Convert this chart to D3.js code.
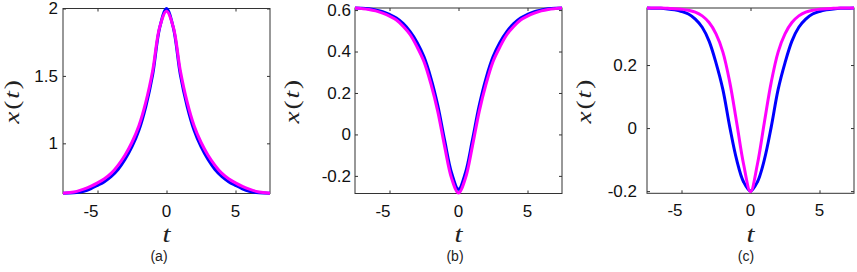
<!DOCTYPE html>
<html>
<head>
<meta charset="utf-8">
<script src="https://cdn.jsdelivr.net/npm/d3@7"></script>
<style>
	html, body { margin: 0; padding: 0; background: #fff; }
	svg { display: block; }
</style>
</head>
<body>
<div id="chart"></div>
<script>
// ===== data =====
const tValues = [-7.5, -7, -6.5, -6, -5.5, -5, -4.5, -4, -3.5, -3, -2.5, -2, -1.5, -1, -0.5, 0,
	0.5, 1, 1.5, 2, 2.5, 3, 3.5, 4, 4.5, 5, 5.5, 6, 6.5, 7, 7.5];

const blueA = [0.63, 0.631, 0.635, 0.645, 0.663, 0.688, 0.716, 0.755, 0.808, 0.882, 0.975, 1.097, 1.273, 1.511, 1.855, 2.0,
	1.855, 1.511, 1.273, 1.097, 0.975, 0.882, 0.808, 0.755, 0.716, 0.688, 0.663, 0.645, 0.635, 0.631, 0.63];
const magentaA = [0.63, 0.635, 0.644, 0.660, 0.681, 0.707, 0.738, 0.779, 0.839, 0.914, 1.008, 1.13, 1.305, 1.54, 1.86, 1.98,
	1.86, 1.54, 1.305, 1.13, 1.008, 0.914, 0.839, 0.779, 0.738, 0.707, 0.681, 0.660, 0.644, 0.635, 0.63];

const blueB = [0.61, 0.609, 0.606, 0.600, 0.592, 0.579, 0.562, 0.535, 0.496, 0.444, 0.374, 0.272, 0.139, -0.030, -0.186, -0.265,
	-0.186, -0.030, 0.139, 0.272, 0.374, 0.444, 0.496, 0.535, 0.562, 0.579, 0.592, 0.600, 0.606, 0.609, 0.61];
const magentaB = [0.61, 0.607, 0.603, 0.596, 0.585, 0.571, 0.552, 0.521, 0.481, 0.422, 0.351, 0.244, 0.110, -0.060, -0.212, -0.283,
	-0.212, -0.060, 0.110, 0.244, 0.351, 0.422, 0.481, 0.521, 0.552, 0.571, 0.585, 0.596, 0.603, 0.607, 0.61];

const blueC = [0.381, 0.380, 0.380, 0.378, 0.375, 0.370, 0.362, 0.346, 0.320, 0.276, 0.207, 0.122, 0.003, -0.101, -0.171, -0.200,
	-0.171, -0.101, 0.003, 0.122, 0.207, 0.276, 0.320, 0.346, 0.362, 0.370, 0.375, 0.378, 0.380, 0.380, 0.381];
const magentaC = [0.381, 0.381, 0.381, 0.380, 0.379, 0.377, 0.374, 0.368, 0.356, 0.335, 0.299, 0.241, 0.145, 0.017, -0.115, -0.202,
	-0.115, 0.017, 0.145, 0.241, 0.299, 0.335, 0.356, 0.368, 0.374, 0.377, 0.379, 0.380, 0.381, 0.381, 0.381];

const xDomain = [-7.5, 7.5];
const xTicks = [-5, 0, 5];
const yDomainA = [0.628, 2];
const yDomainB = [-0.285, 0.61];
const yDomainC = [-0.207, 0.381];
const yTicksA = [1, 1.5, 2];
const yTicksB = [-0.2, 0, 0.2, 0.4, 0.6];
const yTicksC = [-0.2, 0, 0.2];
const captions = ['(a)', '(b)', '(c)'];

// ===== layout =====
const width = 857, height = 272;
const plotW = 207;
const panels = [
	{ left: 63, top: 8.5, bottom: 193.5, yDomain: yDomainA, yTicks: yTicksA, blue: blueA, magenta: magentaA, labGap: 5, ylabX: 13.5, capX: 159, caption: captions[0] },
	{ left: 355, top: 8, bottom: 193.5, yDomain: yDomainB, yTicks: yTicksB, blue: blueB, magenta: magentaB, labGap: 4, ylabX: 294, capX: 455, caption: captions[1] },
	{ left: 647, top: 8, bottom: 193.3, yDomain: yDomainC, yTicks: yTicksC, blue: blueC, magenta: magentaC, labGap: 10, ylabX: 586, capX: 746, caption: captions[2] }
];

const axisColor = '#333';
const tickFont = '"Liberation Sans", Arial, sans-serif';
const mathFont = '"Liberation Serif", "Times New Roman", serif';
const fmt = v => String(v).replace('\u2212', '-');

const svg = d3.select('#chart').append('svg')
	.attr('width', width)
	.attr('height', height);

svg.append('rect').attr('width', width).attr('height', height).attr('fill', '#fff');

panels.forEach(p => {
	const x = d3.scaleLinear().domain(xDomain).range([p.left, p.left + plotW]);
	const y = d3.scaleLinear().domain(p.yDomain).range([p.bottom, p.top]);
	const g = svg.append('g');

	// box
	g.append('rect')
		.attr('x', p.left).attr('y', p.top)
		.attr('width', plotW).attr('height', p.bottom - p.top)
		.attr('fill', 'none').attr('stroke', axisColor).attr('stroke-width', 1);

	// inward ticks on all four sides
	const tickLen = 3;
	g.append('g').attr('transform', `translate(0,${p.bottom})`)
		.call(d3.axisTop(x).tickValues(xTicks).tickSize(tickLen).tickFormat(''))
		.call(a => a.select('.domain').remove());
	g.append('g').attr('transform', `translate(0,${p.top})`)
		.call(d3.axisBottom(x).tickValues(xTicks).tickSize(tickLen).tickFormat(''))
		.call(a => a.select('.domain').remove());
	g.append('g').attr('transform', `translate(${p.left},0)`)
		.call(d3.axisRight(y).tickValues(p.yTicks).tickSize(tickLen).tickFormat(''))
		.call(a => a.select('.domain').remove());
	g.append('g').attr('transform', `translate(${p.left + plotW},0)`)
		.call(d3.axisLeft(y).tickValues(p.yTicks).tickSize(tickLen).tickFormat(''))
		.call(a => a.select('.domain').remove());
	g.selectAll('.tick line').attr('stroke', axisColor);

	// tick labels
	g.selectAll('.xlab').data(xTicks).enter().append('text')
		.attr('x', d => d < 0 ? x(d) + 1 : x(d))
		.attr('y', p.bottom + 23)
		.attr('text-anchor', d => d < 0 ? 'end' : 'middle')
		.attr('font-family', tickFont).attr('font-size', 17).attr('fill', '#111')
		.text(d => fmt(d));
	g.selectAll('.ylab').data(p.yTicks).enter().append('text')
		.attr('x', p.left - p.labGap)
		.attr('y', d => y(d))
		.attr('dy', '0.35em')
		.attr('text-anchor', 'end')
		.attr('font-family', tickFont).attr('font-size', 17).attr('fill', '#111')
		.text(d => fmt(d));

	// curves
	const line = d3.line()
		.x((d, i) => x(tValues[i]))
		.y(d => y(d))
		.curve(d3.curveCatmullRom.alpha(0.5));
	g.append('path').datum(p.blue)
		.attr('d', line).attr('fill', 'none')
		.attr('stroke', '#0000ff').attr('stroke-width', 3).attr('stroke-linejoin', 'round');
	g.append('path').datum(p.magenta)
		.attr('d', line).attr('fill', 'none')
		.attr('stroke', '#ff00ff').attr('stroke-width', 3).attr('stroke-linejoin', 'round');

	// axis labels (math glyphs in the picture are a little wide)
	g.append('text')
		.attr('transform', `translate(${p.left + plotW / 2},242) scale(1.2,1)`)
		.attr('text-anchor', 'middle')
		.attr('font-family', mathFont).attr('font-style', 'italic').attr('font-size', 24).attr('fill', '#222')
		.text('t');
	const yl = g.append('text')
		.attr('transform', `translate(${p.ylabX + 5},${(p.top + p.bottom) / 2}) rotate(-90) scale(1.3,1)`)
		.attr('text-anchor', 'middle')
		.attr('font-family', mathFont).attr('font-size', 21).attr('letter-spacing', 1.5).attr('fill', '#222');
	yl.append('tspan').attr('font-style', 'italic').text('x');
	yl.append('tspan').text('(');
	yl.append('tspan').attr('font-style', 'italic').text('t');
	yl.append('tspan').text(')');

	// caption
	g.append('text')
		.attr('x', p.capX).attr('y', 261)
		.attr('text-anchor', 'middle')
		.attr('font-family', tickFont).attr('font-size', 14).attr('fill', '#222')
		.text(p.caption);
});
</script>
</body>
</html>
